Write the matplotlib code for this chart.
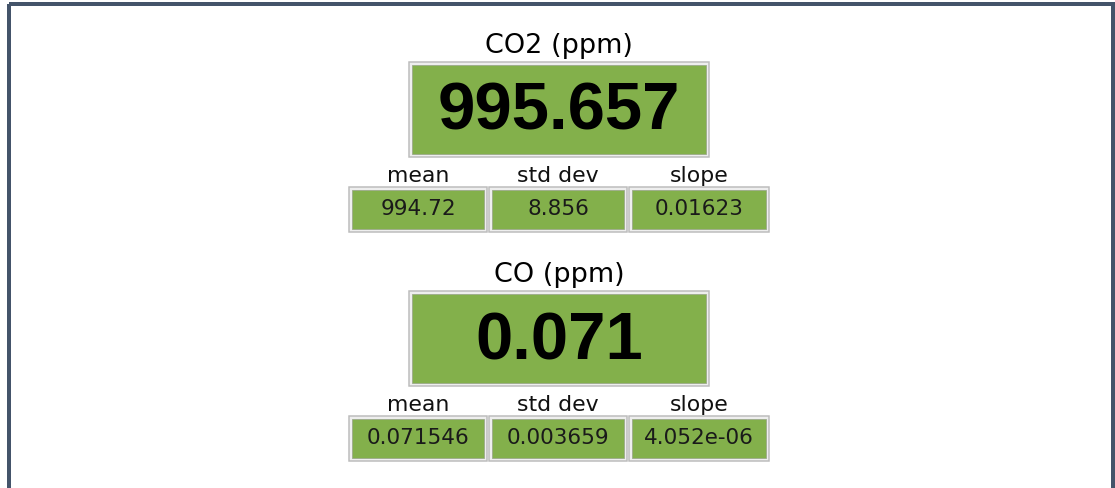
#!/usr/bin/env python3
# -*- coding: utf-8 -*-
# gas analyser readout panel: current value plus mean / std dev / slope

import matplotlib
matplotlib.use('Agg')
import matplotlib.pyplot as plt
from matplotlib.patches import Rectangle

# data
species = ['CO2 (ppm)', 'CO (ppm)']
current = [995.657, 0.071]
means = [994.72, 0.071546]
stds = [8.856, 0.003659]
slopes = [0.01623, 4.052e-06]
stat_names = ['mean', 'std dev', 'slope']

green = '#83b04b'
frame = '#44546a'

W, H = 1115, 488
fig = plt.figure(figsize=(W / 100, H / 100), dpi=100)
ax = fig.add_axes([0, 0, 1, 1])
ax.set_xlim(0, W)
ax.set_ylim(H, 0)
ax.axis('off')

px = 0.72  # points per pixel at 100 dpi

# outer frame (bottom edge falls outside the picture)
ax.add_patch(Rectangle((9, 4), 1104, 600, fill=False, edgecolor=frame,
                       linewidth=4 * px, zorder=1))


def draw_box(x0, y0, x1, y1):
    ax.add_patch(Rectangle((x0, y0), x1 - x0, y1 - y0, facecolor='#eeeeee',
                           edgecolor='#bcbcbc', linewidth=1.5 * px, zorder=2))
    ax.add_patch(Rectangle((x0 + 3, y0 + 3), x1 - x0 - 6, y1 - y0 - 6,
                           facecolor=green, edgecolor='#9aa88a',
                           linewidth=0.8 * px, zorder=3))


cx = 559
small_x = [(349, 487), (489, 627), (629, 769)]
step = 229

for i, name in enumerate(species):
    dy = i * step
    # title
    ax.text(cx, 53 + dy, name, ha='center', va='baseline',
            fontsize=27 * px, family='DejaVu Sans', color='black', zorder=4)
    # big readout
    draw_box(409, 62 + dy, 709, 157 + dy)
    ax.text(cx, 130 + dy, str(current[i]), ha='center', va='baseline',
            fontsize=67 * px, family='Liberation Sans', weight='bold',
            color='black', zorder=4)
    # stats
    vals = [means[i], stds[i], slopes[i]]
    for (x0, x1), lab, v in zip(small_x, stat_names, vals):
        xm = (x0 + x1) / 2
        ax.text(xm, 182 + dy, lab, ha='center', va='baseline',
                fontsize=22 * px, family='DejaVu Sans', color='#111111',
                zorder=4)
        draw_box(x0, 187 + dy, x1, 232 + dy)
        ax.text(xm, 215 + dy, str(v), ha='center', va='baseline',
                fontsize=21.5 * px, family='DejaVu Sans', color='#1a1a1a',
                zorder=4)

fig.savefig('out.png', dpi=100)
